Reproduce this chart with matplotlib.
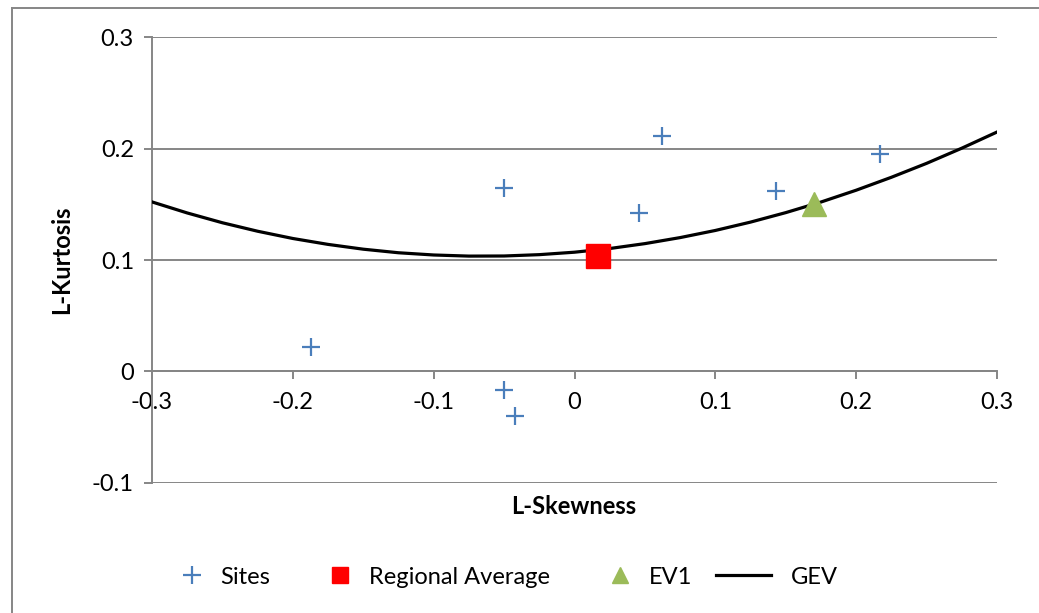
import matplotlib
matplotlib.use("Agg")
import matplotlib.pyplot as plt
from matplotlib.ticker import FuncFormatter, MultipleLocator
from matplotlib.lines import Line2D
from matplotlib.legend_handler import HandlerLine2D

# L-moment ratios
site_skew = [-0.187, -0.050, -0.050, -0.042, 0.046, 0.062, 0.143, 0.217]
site_kurt = [0.022, 0.165, -0.017, -0.040, 0.142, 0.211, 0.162, 0.195]

regional_skew = [0.017]
regional_kurt = [0.104]

ev1_skew = [0.170]
ev1_kurt = [0.150]

# GEV theoretical curve
gev_skew = [-0.300, -0.275, -0.250, -0.225, -0.200, -0.175, -0.150, -0.125, -0.100,
            -0.075, -0.050, -0.025, 0.000, 0.025, 0.050, 0.075, 0.100, 0.125,
            0.150, 0.175, 0.200, 0.225, 0.250, 0.275, 0.300]
gev_kurt = [0.1521, 0.1422, 0.1334, 0.1258, 0.1193, 0.1140, 0.1097, 0.1065, 0.1045,
            0.1035, 0.1036, 0.1048, 0.1070, 0.1103, 0.1147, 0.1201, 0.1265, 0.1340,
            0.1425, 0.1520, 0.1626, 0.1742, 0.1867, 0.2003, 0.2148]

plt.rcParams['font.family'] = ['Lato', 'DejaVu Sans']
plt.rcParams['axes.unicode_minus'] = False

grey = '#868686'
fs = 17


class RightMarker(HandlerLine2D):
    # excel puts the legend marker near the right end of the key area
    def create_artists(self, legend, orig_handle, xdescent, ydescent, width,
                       height, fontsize, trans):
        arts = super().create_artists(legend, orig_handle, xdescent, ydescent,
                                      width, height, fontsize, trans)
        for a in arts:
            if a.get_marker() not in (None, 'None', ''):
                a.set_xdata([width - xdescent - 6])
        return arts


fig = plt.figure(figsize=(10.39, 6.13), dpi=100)
ax = fig.add_axes([0.1463, 0.2121, 0.8133, 0.7275])

ax.plot(gev_skew, gev_kurt, color='black', lw=2.3, zorder=3, label='GEV')
ax.plot(site_skew, site_kurt, ls='none', marker='+', ms=13.5, mew=1.6,
        color='#4A7EBB', zorder=4, label='Sites')
ax.plot(regional_skew, regional_kurt, ls='none', marker='s', ms=17,
        color='#FF0000', zorder=5, label='Regional Average')
ax.plot(ev1_skew, ev1_kurt, ls='none', marker='^', ms=17,
        color='#9BBB59', zorder=5, label='EV1')

ax.set_xlim(-0.3, 0.3)
ax.set_ylim(-0.1, 0.3)
ax.xaxis.set_major_locator(MultipleLocator(0.1))
ax.yaxis.set_major_locator(MultipleLocator(0.1))
fmt = FuncFormatter(lambda v, p: f"{round(v, 2):g}")
ax.xaxis.set_major_formatter(fmt)
ax.yaxis.set_major_formatter(fmt)

ax.spines['top'].set_visible(False)
ax.spines['right'].set_visible(False)
ax.spines['bottom'].set_position(('data', 0))
for s in ('left', 'bottom'):
    ax.spines[s].set_color(grey)
    ax.spines[s].set_linewidth(1.4)

ax.grid(axis='y', color=grey, lw=1.4)
ax.set_axisbelow(True)
ax.tick_params(axis='both', direction='out', length=6, width=1.4, color=grey,
               labelsize=fs)
ax.tick_params(axis='y', pad=7)
ax.tick_params(axis='x', pad=9)

fig.text(0.0597, 0.576, 'L-Kurtosis', rotation=90, fontsize=fs, fontweight='bold',
         ha='center', va='center')
fig.text(0.5525, 0.1745, 'L-Skewness', fontsize=fs, fontweight='bold',
         ha='center', va='center')

h_sites = Line2D([], [], ls='none', marker='+', ms=13.5, mew=1.6, color='#4A7EBB')
h_reg = Line2D([], [], ls='none', marker='s', ms=12, color='#FF0000')
h_ev1 = Line2D([], [], ls='none', marker='^', ms=12, color='#9BBB59')
h_gev = Line2D([], [], color='black', lw=2.3)
rm = RightMarker()
fig.legend([h_sites, h_reg, h_ev1, h_gev], ['Sites', 'Regional Average', 'EV1', 'GEV'],
           loc='center', bbox_to_anchor=(0.473, 0.0587), ncol=4, frameon=False,
           fontsize=fs, handlelength=2.33, columnspacing=1.0, handletextpad=0.85,
           handler_map={h_sites: rm, h_reg: rm, h_ev1: rm})

# chart area border (left and top edges visible)
fig.add_artist(Line2D([0.0115, 0.0115], [0.0, 0.987], transform=fig.transFigure,
                      color=grey, lw=1.4))
fig.add_artist(Line2D([0.0115, 1.0], [0.987, 0.987], transform=fig.transFigure,
                      color=grey, lw=1.4))

fig.savefig('out.png', dpi=100)
